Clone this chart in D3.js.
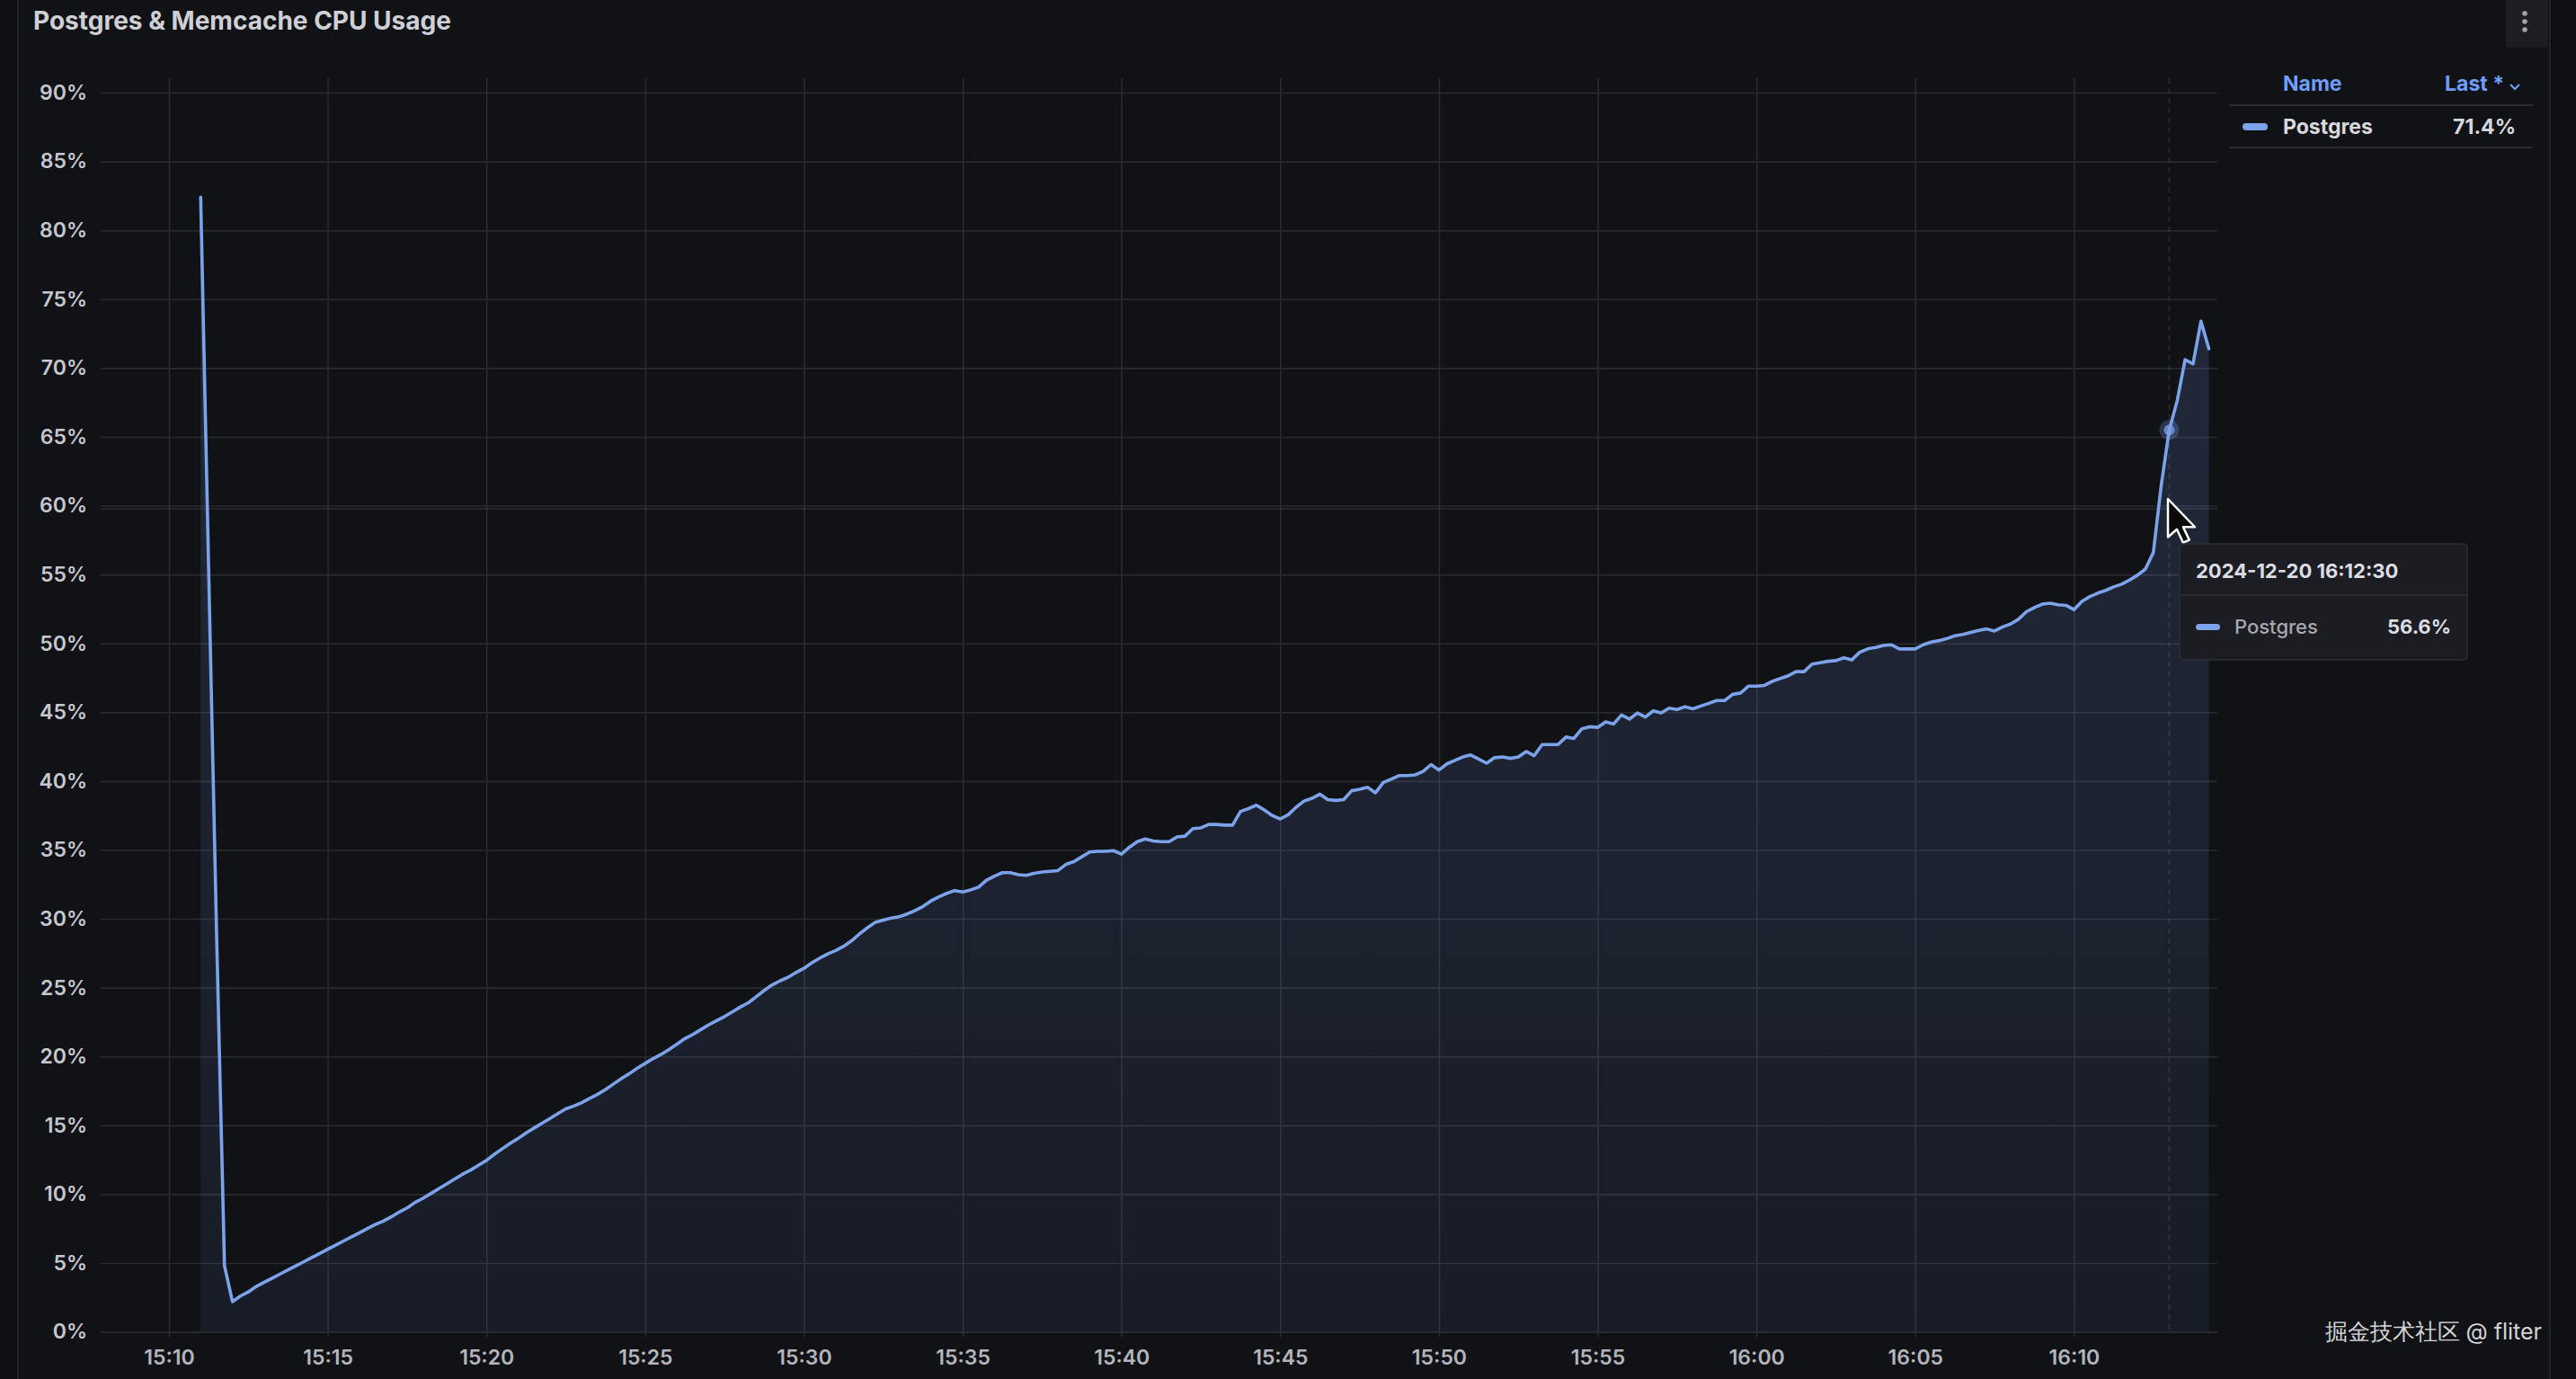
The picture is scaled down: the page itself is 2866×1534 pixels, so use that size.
<!DOCTYPE html>
<html><head><meta charset="utf-8">
<script src="https://cdn.jsdelivr.net/npm/d3@7"></script>
<style>
html,body{margin:0;padding:0;background:#0e0f12;overflow:hidden;}
svg{display:block;}
text{font-family:Inter,"Noto Sans",sans-serif;}
</style></head>
<body>
<svg id="chart" width="2866" height="1534"></svg>
<script>
// ---------- data ----------
const chartTitle = "Postgres & Memcache CPU Usage";
const seriesName = "Postgres";
const startTime = new Date(2024, 11, 20, 15, 11, 0);
const stepSeconds = 15;
const postgresCpu = [
  82.4, 55.5, 29.0, 4.8, 2.2, 2.6, 2.9, 3.3, 3.6, 3.9,
  4.2, 4.5, 4.8, 5.1, 5.4, 5.7, 6.0, 6.3, 6.6, 6.9,
  7.2, 7.5, 7.8, 8.05, 8.35, 8.7, 9.0, 9.4, 9.7, 10.05,
  10.4, 10.75, 11.1, 11.45, 11.75, 12.1, 12.45, 12.9, 13.3, 13.7,
  14.05, 14.45, 14.8, 15.15, 15.5, 15.85, 16.2, 16.4, 16.65, 16.95,
  17.25, 17.6, 18.0, 18.4, 18.75, 19.15, 19.5, 19.85, 20.15, 20.5,
  20.9, 21.3, 21.6, 21.95, 22.3, 22.6, 22.9, 23.25, 23.6, 23.9,
  24.35, 24.8, 25.2, 25.5, 25.75, 26.1, 26.4, 26.8, 27.15, 27.45,
  27.7, 28.0, 28.4, 28.9, 29.35, 29.75, 29.9, 30.05, 30.15, 30.35,
  30.6, 30.9, 31.3, 31.6, 31.85, 32.05, 31.95, 32.1, 32.3, 32.8,
  33.1, 33.35, 33.35, 33.2, 33.15, 33.3, 33.4, 33.45, 33.5, 33.95,
  34.15, 34.5, 34.85, 34.9, 34.9, 34.95, 34.7, 35.2, 35.6, 35.8,
  35.65, 35.6, 35.6, 35.95, 36.0, 36.55, 36.6, 36.85, 36.85, 36.8,
  36.8, 37.8, 38.0, 38.25, 37.9, 37.5, 37.25, 37.55, 38.1, 38.55,
  38.75, 39.05, 38.65, 38.6, 38.65, 39.3, 39.4, 39.55, 39.15, 39.9,
  40.15, 40.4, 40.4, 40.45, 40.7, 41.2, 40.8, 41.25, 41.5, 41.75,
  41.9, 41.6, 41.3, 41.7, 41.75, 41.65, 41.75, 42.15, 41.85, 42.65,
  42.65, 42.65, 43.2, 43.1, 43.8, 43.95, 43.9, 44.3, 44.15, 44.8,
  44.5, 44.95, 44.65, 45.1, 44.95, 45.3, 45.2, 45.4, 45.25, 45.45,
  45.65, 45.85, 45.85, 46.3, 46.4, 46.9, 46.9, 46.95, 47.25, 47.45,
  47.65, 47.95, 47.95, 48.5, 48.6, 48.7, 48.75, 48.95, 48.8, 49.35,
  49.6, 49.7, 49.85, 49.9, 49.6, 49.6, 49.6, 49.9, 50.1, 50.2,
  50.35, 50.55, 50.65, 50.8, 50.95, 51.05, 50.9, 51.2, 51.4, 51.75,
  52.3, 52.6, 52.85, 52.92, 52.8, 52.76, 52.45, 53.05, 53.4, 53.65,
  53.85, 54.1, 54.3, 54.6, 54.95, 55.4, 56.6, 61.5, 65.5, 67.6,
  70.6, 70.3, 73.4, 71.4
];
const yTicks = [0, 5, 10, 15, 20, 25, 30, 35, 40, 45, 50, 55, 60, 65, 70, 75, 80, 85, 90];
const xDomain = [new Date(2024, 11, 20, 15, 7, 51), new Date(2024, 11, 20, 16, 14, 31)];
const xTickEveryMinutes = 5;
const legendHeaders = ["Name", "Last *"];
const legendLastValue = "71.4%";
const tooltipTime = "2024-12-20 16:12:30";
const tooltipValue = "56.6%";
const hoverIndex = 248;
const watermarkText = "掘金技术社区 @ fliter";

// ---------- layout ----------
const W = 2866, H = 1534;
const plot = {left: 112, right: 2467, top: 87, bottom: 1481.6};
const lineColor = "#7ca3ea";
const gridColor = "#2a2b31";

const svg = d3.select("#chart");
const defs = svg.append("defs");

// backgrounds
svg.append("rect").attr("width", W).attr("height", H).attr("fill", "#0e0f12");
svg.append("rect").attr("x", 20).attr("y", -10).attr("width", 2817).attr("height", H + 20)
  .attr("fill", "#111216").attr("stroke", "#23242a").attr("stroke-width", 2);

// title
svg.append("text").attr("x", 37).attr("y", 33).text(chartTitle)
  .attr("font-size", 28).attr("font-weight", 700).attr("fill", "#cfd0d6");

// menu button
svg.append("rect").attr("x", 2788).attr("y", -4).attr("width", 47).attr("height", 57).attr("rx", 3).attr("fill", "#1d1e23");
[15, 24, 33].forEach(cy => svg.append("circle").attr("cx", 2809).attr("cy", cy).attr("r", 2.8).attr("fill", "#a3a4ab"));

// scales
const data = postgresCpu.map((v, i) => ({t: new Date(startTime.getTime() + i * stepSeconds * 1000), v}));
const x = d3.scaleTime().domain(xDomain).range([plot.left, plot.right]);
const y = d3.scaleLinear().domain([0, 90]).range([plot.bottom, 103]);

// axes + grid
const gY = svg.append("g").attr("transform", `translate(${plot.left},0)`)
  .call(d3.axisLeft(y).tickValues(yTicks).tickSize(-(plot.right - plot.left)).tickPadding(15).tickFormat(d => d + "%"));
gY.select(".domain").remove();
gY.selectAll(".tick line").attr("stroke", gridColor).attr("stroke-width", 1.6);
gY.selectAll(".tick text").attr("font-size", 23).attr("font-weight", 600).attr("fill", "#c6c7ce")
  .attr("font-family", "Inter, sans-serif");

const gX = svg.append("g").attr("transform", `translate(0,${plot.bottom})`)
  .call(d3.axisBottom(x).ticks(d3.timeMinute.every(xTickEveryMinutes)).tickSize(-(plot.bottom - plot.top)).tickPadding(20)
    .tickFormat(d3.timeFormat("%H:%M")));
gX.select(".domain").remove();
gX.selectAll(".tick line").attr("stroke", gridColor).attr("stroke-width", 1.6).attr("y2", -(plot.bottom - plot.top)).attr("y1", 6);
gX.selectAll(".tick text").attr("font-size", 23).attr("font-weight", 600).attr("fill", "#b4b5bc")
  .attr("font-family", "Inter, sans-serif");

// fill gradient
const grad = defs.append("linearGradient").attr("id", "fillGrad").attr("gradientUnits", "userSpaceOnUse")
  .attr("x1", 0).attr("x2", 0).attr("y1", y(75)).attr("y2", y(0));
grad.append("stop").attr("offset", 0).attr("stop-color", "#6e96eb").attr("stop-opacity", 0.17);
grad.append("stop").attr("offset", 1).attr("stop-color", "#6e96eb").attr("stop-opacity", 0.075);

svg.append("path").datum(data)
  .attr("d", d3.area().x(d => x(d.t)).y0(y(0)).y1(d => y(d.v)))
  .attr("fill", "url(#fillGrad)");

// crosshair
const hx = x(data[hoverIndex].t);
svg.append("line").attr("x1", hx).attr("x2", hx).attr("y1", plot.top).attr("y2", plot.bottom)
  .attr("stroke", "#ffffff").attr("stroke-opacity", 0.11).attr("stroke-width", 1.5).attr("stroke-dasharray", "6,5");
svg.append("line").attr("x1", plot.left).attr("x2", plot.right).attr("y1", 566).attr("y2", 566)
  .attr("stroke", "#ffffff").attr("stroke-opacity", 0.08).attr("stroke-width", 2);

// line
svg.append("path").datum(data)
  .attr("d", d3.line().x(d => x(d.t)).y(d => y(d.v)))
  .attr("fill", "none").attr("stroke", lineColor).attr("stroke-width", 3.6)
  .attr("stroke-linejoin", "round").attr("stroke-linecap", "round");

// hover dot
const hy = y(data[hoverIndex].v);
svg.append("circle").attr("cx", hx).attr("cy", hy).attr("r", 11).attr("fill", lineColor).attr("fill-opacity", 0.25);
svg.append("circle").attr("cx", hx).attr("cy", hy).attr("r", 6).attr("fill", lineColor).attr("fill-opacity", 0.75);

// legend
svg.append("text").attr("x", 2540).attr("y", 93).attr("dy", "0.35em").text(legendHeaders[0])
  .attr("font-size", 23).attr("font-weight", 700).attr("fill", "#6e9fff");
svg.append("text").attr("x", 2786).attr("y", 93).attr("dy", "0.35em").attr("text-anchor", "end").text(legendHeaders[1])
  .attr("font-size", 23).attr("font-weight", 700).attr("fill", "#6e9fff");
svg.append("path").attr("d", "M2793,94 L2798,99 L2803,94").attr("fill", "none").attr("stroke", "#6e9fff").attr("stroke-width", 2);
svg.append("line").attr("x1", 2480).attr("x2", 2818).attr("y1", 117).attr("y2", 117).attr("stroke", "#2a2b31").attr("stroke-width", 2);
svg.append("rect").attr("x", 2495).attr("y", 137).attr("width", 28).attr("height", 8).attr("rx", 4).attr("fill", lineColor);
svg.append("text").attr("x", 2540).attr("y", 141).attr("dy", "0.35em").text(seriesName)
  .attr("font-size", 23).attr("font-weight", 700).attr("fill", "#d8d9de");
svg.append("text").attr("x", 2799).attr("y", 141).attr("dy", "0.35em").attr("text-anchor", "end").text(legendLastValue)
  .attr("font-size", 23).attr("font-weight", 700).attr("fill", "#d8d9de");
svg.append("line").attr("x1", 2480).attr("x2", 2818).attr("y1", 164).attr("y2", 164).attr("stroke", "#2a2b31").attr("stroke-width", 2);

// cursor
const cx0 = 2412, cy0 = 555, s = 1.25;
svg.append("path")
  .attr("d", `M0,0 L0,34 L8,27 L13.5,39 L19,36.5 L13.5,25 L24,25 Z`)
  .attr("transform", `translate(${cx0},${cy0}) scale(${s})`)
  .attr("fill", "#0a0a0a").attr("stroke", "#ffffff").attr("stroke-width", 2).attr("stroke-linejoin", "round");

// tooltip
const tip = svg.append("g");
tip.append("rect").attr("x", 2425).attr("y", 605).attr("width", 320).attr("height", 129).attr("rx", 4)
  .attr("fill", "#1c1d22").attr("stroke", "#2d2e34").attr("stroke-width", 1.5);
tip.append("text").attr("x", 2443).attr("y", 643).text(tooltipTime)
  .attr("font-size", 22).attr("font-weight", 700).attr("fill", "#dcdde2");
tip.append("line").attr("x1", 2425).attr("x2", 2745).attr("y1", 662).attr("y2", 662).attr("stroke", "#2d2e34").attr("stroke-width", 1.5);
tip.append("rect").attr("x", 2443).attr("y", 694).attr("width", 27).attr("height", 7).attr("rx", 3.5).attr("fill", lineColor);
tip.append("text").attr("x", 2486).attr("y", 697).attr("dy", "0.35em").text(seriesName)
  .attr("font-size", 22).attr("font-weight", 500).attr("fill", "#a7a8af");
tip.append("text").attr("x", 2727).attr("y", 697).attr("dy", "0.35em").attr("text-anchor", "end").text(tooltipValue)
  .attr("font-size", 22).attr("font-weight", 700).attr("fill", "#dcdde2");

// watermark
svg.append("text").attr("x", 2828).attr("y", 1481).attr("dy", "0.35em").attr("text-anchor", "end").text(watermarkText)
  .attr("font-family", "'Noto Sans CJK SC', sans-serif").attr("font-size", 25).attr("fill", "#d4d4d6");
</script>
</body></html>
